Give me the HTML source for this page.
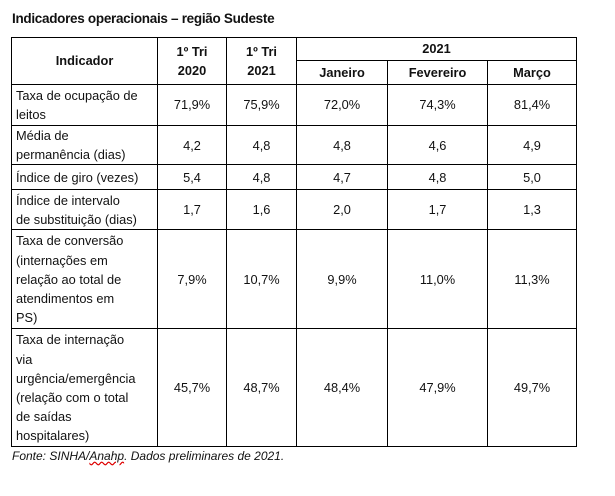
<!DOCTYPE html>
<html><head><meta charset="utf-8"><style>
body{margin:0;width:615px;height:496px;background:#fff;font-family:"Liberation Sans",sans-serif;color:#111;position:relative;overflow:hidden}
.title{position:absolute;left:12px;top:11px;font-size:13.5px;font-weight:bold;letter-spacing:-0.3px;white-space:nowrap}
table{position:absolute;left:11px;top:37px;border-collapse:collapse;table-layout:fixed;font-size:12.8px}
td,th{border:1px solid #000;padding:0 4px;line-height:19.2px;white-space:nowrap;text-align:center;vertical-align:middle;overflow:hidden}
th{font-weight:bold}
td.l{text-align:left}
.src{position:absolute;left:12px;top:449px;font-size:12px;font-style:italic;white-space:nowrap}
.sq{text-decoration:underline wavy #d00}
</style></head><body>
<div class="title">Indicadores operacionais – região Sudeste</div>
<table>
<colgroup><col style="width:146px"><col style="width:69px"><col style="width:70px"><col style="width:91px"><col style="width:100px"><col style="width:89px"></colgroup>
<tr style="height:23px"><th rowspan="2">Indicador</th><th rowspan="2">1º Tri<br>2020</th><th rowspan="2">1º Tri<br>2021</th><th colspan="3">2021</th></tr>
<tr style="height:24px"><th>Janeiro</th><th>Fevereiro</th><th>Março</th></tr>
<tr style="height:41px"><td class="l">Taxa de ocupação de<br>leitos</td><td>71,9%</td><td>75,9%</td><td>72,0%</td><td>74,3%</td><td>81,4%</td></tr>
<tr style="height:38px"><td class="l">Média de<br>permanência (dias)</td><td>4,2</td><td>4,8</td><td>4,8</td><td>4,6</td><td>4,9</td></tr>
<tr style="height:25px"><td class="l">Índice de giro (vezes)</td><td>5,4</td><td>4,8</td><td>4,7</td><td>4,8</td><td>5,0</td></tr>
<tr style="height:40px"><td class="l">Índice de intervalo<br>de substituição (dias)</td><td>1,7</td><td>1,6</td><td>2,0</td><td>1,7</td><td>1,3</td></tr>
<tr style="height:99px"><td class="l">Taxa de conversão<br>(internações em<br>relação ao total de<br>atendimentos em<br>PS)</td><td>7,9%</td><td>10,7%</td><td>9,9%</td><td>11,0%</td><td>11,3%</td></tr>
<tr style="height:118px"><td class="l">Taxa de internação<br>via<br>urgência/emergência<br>(relação com o total<br>de saídas<br>hospitalares)</td><td>45,7%</td><td>48,7%</td><td>48,4%</td><td>47,9%</td><td>49,7%</td></tr>
</table>
<div class="src">Fonte: SINHA/<span class="sq">Anahp</span>. Dados preliminares de 2021.</div>
</body></html>
